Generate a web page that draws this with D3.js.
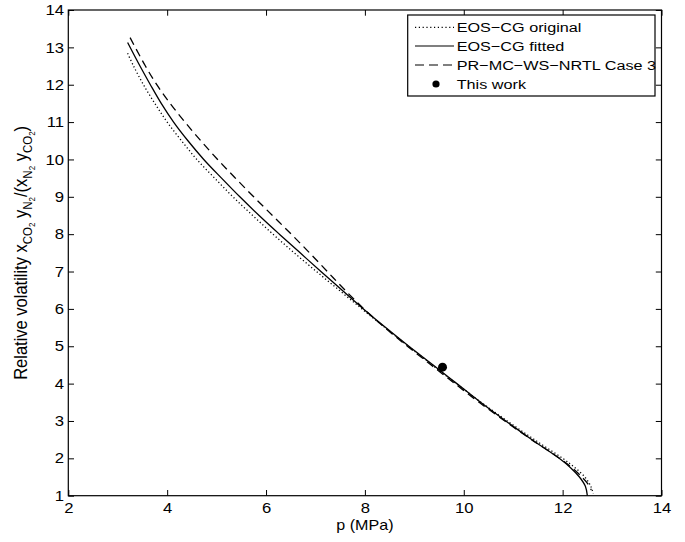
<!DOCTYPE html>
<html>
<head>
<meta charset="utf-8">
<script src="https://cdn.jsdelivr.net/npm/d3@7"></script>
<style>
  html, body { margin: 0; padding: 0; background: #fff; }
  svg { display: block; font-family: "Liberation Sans", Arial, Helvetica, sans-serif; }
</style>
</head>
<body>
<svg id="chart" width="685" height="542"></svg>
<script>
// Relative volatility levels and the pressure (MPa) where each model curve crosses them
const vOriginal = [12.84, 12.5, 12.0, 11.5, 11.0, 10.5, 10.0, 9.5, 9.0, 8.5, 8.0, 7.5, 7.0, 6.5, 6.0, 5.5, 5.0, 4.5, 4.0, 3.5, 3.0, 2.5, 2.0, 1.75, 1.5, 1.25, 1.05];
const pOriginal = [3.20, 3.32, 3.52, 3.75, 4.00, 4.29, 4.60, 4.96, 5.33, 5.73, 6.14, 6.57, 7.02, 7.48, 7.94, 8.41, 8.88, 9.36, 9.85, 10.35, 10.88, 11.43, 12.00, 12.25, 12.45, 12.57, 12.62];

const vFitted = [13.13, 12.5, 12.0, 11.5, 11.0, 10.5, 10.0, 9.5, 9.0, 8.5, 8.0, 7.5, 7.0, 6.5, 6.0, 5.5, 5.0, 4.5, 4.0, 3.5, 3.0, 2.5, 2.0, 1.75, 1.5, 1.25, 1.0];
const pFitted = [3.20, 3.45, 3.66, 3.88, 4.13, 4.42, 4.74, 5.10, 5.47, 5.86, 6.27, 6.69, 7.11, 7.54, 7.97, 8.42, 8.89, 9.38, 9.86, 10.34, 10.85, 11.38, 11.93, 12.16, 12.34, 12.46, 12.50];

const vCase3 = [13.26, 12.5, 12.0, 11.5, 11.0, 10.5, 10.0, 9.5, 9.0, 8.5, 8.0, 7.5, 7.0, 6.5, 6.0, 5.5, 5.0, 4.5, 4.0, 3.5, 3.0, 2.5, 2.0, 1.75, 1.5, 1.3, 1.15];
const pCase3 = [3.25, 3.56, 3.79, 4.06, 4.36, 4.68, 5.02, 5.38, 5.75, 6.13, 6.51, 6.88, 7.24, 7.60, 7.98, 8.40, 8.86, 9.34, 9.82, 10.31, 10.83, 11.37, 11.94, 12.19, 12.39, 12.52, 12.58];

// Measured point
const pThisWork = [9.57];
const vThisWork = [4.44];

// Axis ticks
const xTicks = [2, 4, 6, 8, 10, 12, 14];
const yTicks = [1, 2, 3, 4, 5, 6, 7, 8, 9, 10, 11, 12, 13, 14];

// Legend entries
const legendLabels = ["EOS\u2212CG original", "EOS\u2212CG fitted", "PR\u2212MC\u2212WS\u2212NRTL Case 3", "This work"];

const svg = d3.select("#chart");
const frame = { left: 68.3, right: 661.5, top: 10, bottom: 495.7 };
const sx = 1.15;          // horizontal glyph stretch
const tickLen = 5.7;

const x = d3.scaleLinear().domain([2, 14]).range([frame.left, frame.right]);
const y = d3.scaleLinear().domain([1, 14]).range([frame.bottom, frame.top]);

// Frame
svg.append("rect")
  .attr("x", frame.left).attr("y", frame.top)
  .attr("width", frame.right - frame.left).attr("height", frame.bottom - frame.top)
  .attr("fill", "none").attr("stroke", "#000").attr("stroke-width", 1.2);

function styleAxis(g) {
  g.select(".domain").remove();
  g.selectAll("line").attr("stroke", "#000").attr("stroke-width", 1);
  g.selectAll("text").attr("fill", "#000").attr("font-size", 14.5)
    .attr("font-family", "'Liberation Sans', Arial, sans-serif");
}

// Bottom axis with labels
svg.append("g").attr("transform", `translate(0,${frame.bottom})`)
  .call(d3.axisBottom(x).tickValues(xTicks).tickFormat(d3.format("d"))
    .tickSizeInner(-tickLen).tickSizeOuter(0).tickPadding(7.3))
  .call(styleAxis)
  .call(g => g.selectAll("text").attr("transform", `scale(${sx},1)`));

// Left axis with labels
svg.append("g").attr("transform", `translate(${frame.left},0)`)
  .call(d3.axisLeft(y).tickValues(yTicks).tickFormat(d3.format("d"))
    .tickSizeInner(-tickLen).tickSizeOuter(0).tickPadding(4.3 / sx))
  .call(styleAxis)
  .call(g => g.selectAll("text").attr("transform", `scale(${sx},1)`));

// Top and right ticks, no labels
svg.append("g").attr("transform", `translate(0,${frame.top})`)
  .call(d3.axisTop(x).tickValues(xTicks).tickFormat("")
    .tickSizeInner(-tickLen).tickSizeOuter(0))
  .call(styleAxis);
svg.append("g").attr("transform", `translate(${frame.right},0)`)
  .call(d3.axisRight(y).tickValues(yTicks).tickFormat("")
    .tickSizeInner(-tickLen).tickSizeOuter(0))
  .call(styleAxis);

// Curves
const line = d3.line().x(d => x(d[0])).y(d => y(d[1])).curve(d3.curveCatmullRom.alpha(0.5));
const series = [
  { p: pOriginal, v: vOriginal, dash: "1.2,2.4" },
  { p: pFitted,   v: vFitted,   dash: null },
  { p: pCase3,    v: vCase3,    dash: "8,5" }
];
const plot = svg.append("g");
series.forEach(s => {
  plot.append("path")
    .datum(s.p.map((p, i) => [p, s.v[i]]))
    .attr("d", line)
    .attr("fill", "none")
    .attr("stroke", "#000")
    .attr("stroke-width", 1.3)
    .attr("stroke-dasharray", s.dash);
});

plot.selectAll("circle.pt")
  .data(pThisWork.map((p, i) => [p, vThisWork[i]]))
  .join("circle")
  .attr("class", "pt")
  .attr("cx", d => x(d[0])).attr("cy", d => y(d[1]))
  .attr("r", 4.5).attr("fill", "#000");

// Axis titles
svg.append("text")
  .attr("transform", `translate(${(frame.left + frame.right) / 2},530) scale(${sx},1)`)
  .attr("text-anchor", "middle").attr("font-size", 14)
  .text("p (MPa)");

const yl = svg.append("text")
  .attr("transform", `translate(27,${(frame.top + frame.bottom) / 2}) scale(1.1,1) rotate(-90)`)
  .attr("text-anchor", "middle").attr("font-size", 16.5);
function part(str, size, dy) {
  const t = yl.append("tspan").text(str);
  if (size) t.attr("font-size", size);
  if (dy) t.attr("dy", dy);
}
part("Relative volatility x");
part("CO", 11.5, 4.5);
part("2", 8, 3);
part(" y", null, -7.5);
part("N", 11.5, 4.5);
part("2", 8, 3);
part("/(x", null, -7.5);
part("N", 11.5, 4.5);
part("2", 8, 3);
part(" y", null, -7.5);
part("CO", 11.5, 4.5);
part("2", 8, 3);
part(")", null, -7.5);

// Legend
const lg = svg.append("g");
lg.append("rect")
  .attr("x", 407.7).attr("y", 15).attr("width", 655 - 407.7).attr("height", 81)
  .attr("fill", "#fff").attr("stroke", "#000").attr("stroke-width", 1.2);
const rowY = [27.3, 46, 65, 84];
const legendDash = ["1.2,2.6", null, "9,5"];
legendLabels.forEach((lab, i) => {
  if (i < 3) {
    lg.append("line")
      .attr("x1", 415).attr("x2", 454).attr("y1", rowY[i]).attr("y2", rowY[i])
      .attr("stroke", "#000").attr("stroke-width", 1.2)
      .attr("stroke-dasharray", legendDash[i]);
  } else {
    lg.append("circle").attr("cx", 436).attr("cy", rowY[i]).attr("r", 3.6).attr("fill", "#000");
  }
  lg.append("text")
    .attr("transform", `translate(456.7,${rowY[i] + 4.7}) scale(1.2,1)`)
    .attr("font-size", 13.5)
    .text(lab);
});
</script>
</body>
</html>
